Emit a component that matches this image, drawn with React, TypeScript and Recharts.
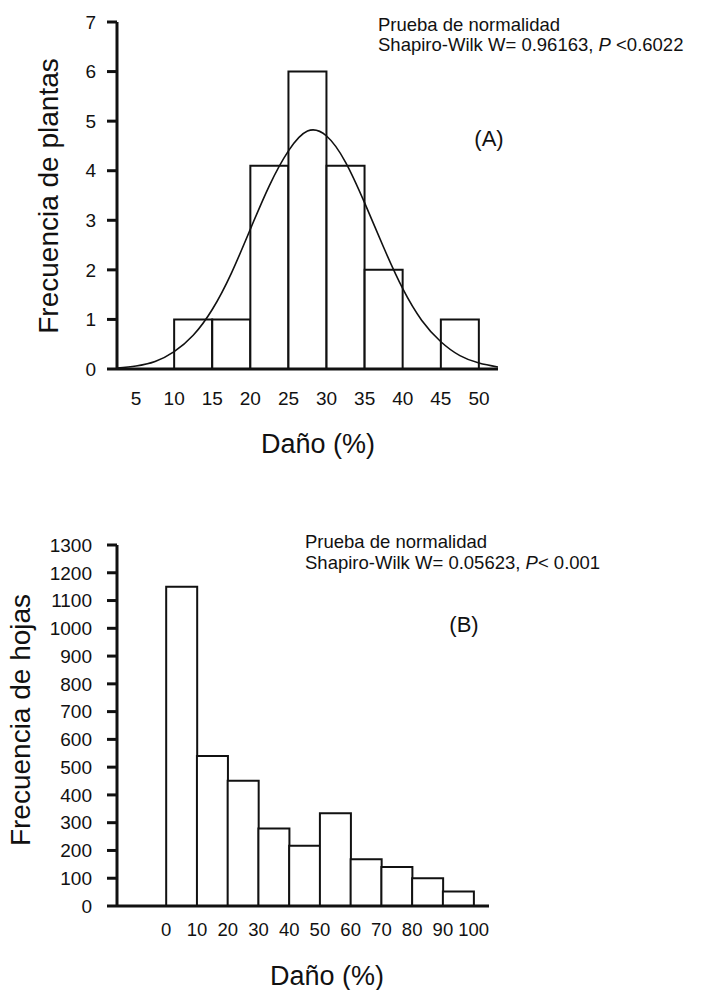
import React from 'react';
import { ComposedChart, Bar, Line, XAxis, YAxis } from 'recharts';

// ---------- Panel A: plants ----------
const plantBinMids = [12.5, 17.5, 22.5, 27.5, 32.5, 37.5, 47.5];
const plantCounts = [1, 1, 4.1, 6, 4.1, 2, 1];
const plantXTicks = [5, 10, 15, 20, 25, 30, 35, 40, 45, 50];
const plantYTicks = [0, 1, 2, 3, 4, 5, 6, 7];
const fitX = [2.5, 5, 7.5, 10, 12.5, 15, 17.5, 20, 22.5, 25, 27.5, 30, 32.5, 35, 37.5, 40, 42.5, 45, 47.5, 50, 52.5];
const fitY = [0.02, 0.06, 0.15, 0.35, 0.68, 1.2, 1.93, 2.82, 3.7, 4.4, 4.8, 4.7, 4.17, 3.35, 2.45, 1.62, 0.98, 0.55, 0.27, 0.12, 0.04];

// ---------- Panel B: leaves ----------
const leafBinMids = [5, 15, 25, 35, 45, 55, 65, 75, 85, 95];
const leafCounts = [1150, 540, 451, 279, 217, 334, 168, 140, 100, 52];
const leafXTicks = [0, 10, 20, 30, 40, 50, 60, 70, 80, 90, 100];
const leafYTicks = [0, 100, 200, 300, 400, 500, 600, 700, 800, 900, 1000, 1100, 1200, 1300];

const plantData = plantBinMids.map((x, i) => ({ x, count: plantCounts[i] }));
const fitData = fitX.map((x, i) => ({ x, y: fitY[i] }));
const leafData = leafBinMids.map((x, i) => ({ x, count: leafCounts[i] }));

const FONT = '"Liberation Sans", Arial, sans-serif';
const INK = '#111';

const axisLine = { stroke: INK, strokeWidth: 3 };
const tickLine = { stroke: INK, strokeWidth: 3 };

export default function App() {
  return (
    <div style={{ position: 'absolute', left: 0, top: 0, width: 706, height: 990, background: '#fff', fontFamily: FONT }}>
      <div style={{ position: 'absolute', left: 0, top: 0 }}>
        <ComposedChart
          width={706}
          height={470}
          data={plantData}
          margin={{ top: 22, right: 208, bottom: 0, left: 0 }}
          barCategoryGap={0}
          barGap={0}
        >
          <XAxis
            xAxisId="bins"
            dataKey="x"
            type="number"
            domain={[2.5, 52.5]}
            allowDataOverflow
            ticks={plantXTicks}
            interval={0}
            height={101}
            axisLine={axisLine}
            tickLine={false}
            tickSize={0}
            tickMargin={23}
            tick={{ fontSize: 19, fill: INK, fontFamily: FONT }}
          />
          <XAxis xAxisId="fit" dataKey="x" type="number" domain={[2.5, 52.5]} allowDataOverflow hide />
          <YAxis
            type="number"
            domain={[0, 7]}
            allowDataOverflow
            ticks={plantYTicks}
            interval={0}
            width={117}
            axisLine={axisLine}
            tickLine={tickLine}
            tickSize={10}
            tickMargin={11}
            tick={{ fontSize: 19, fill: INK, fontFamily: FONT }}
          />
          <Bar xAxisId="bins" dataKey="count" fill="#fff" stroke={INK} strokeWidth={2} isAnimationActive={false} />
          <Line
            xAxisId="fit"
            data={fitData}
            dataKey="y"
            type="natural"
            dot={false}
            activeDot={false}
            stroke={INK}
            strokeWidth={1.6}
            isAnimationActive={false}
          />
        </ComposedChart>
      </div>
      <div style={{ position: 'absolute', left: 0, top: 470 }}>
        <ComposedChart
          width={706}
          height={520}
          data={leafData}
          margin={{ top: 75, right: 217, bottom: 0, left: 0 }}
          barCategoryGap={0}
          barGap={0}
        >
          <XAxis
            dataKey="x"
            type="number"
            domain={[-16, 105]}
            allowDataOverflow
            ticks={leafXTicks}
            interval={0}
            height={84}
            axisLine={axisLine}
            tickLine={false}
            tickSize={0}
            tickMargin={17}
            tick={{ fontSize: 18.5, fill: INK, fontFamily: FONT }}
          />
          <YAxis
            type="number"
            domain={[0, 1300]}
            allowDataOverflow
            ticks={leafYTicks}
            interval={0}
            width={117}
            axisLine={axisLine}
            tickLine={tickLine}
            tickSize={10}
            tickMargin={15}
            tick={{ fontSize: 19, fill: INK, fontFamily: FONT }}
          />
          <Bar dataKey="count" fill="#fff" stroke={INK} strokeWidth={2} isAnimationActive={false} />
        </ComposedChart>
      </div>
      <svg width={706} height={990} style={{ position: 'absolute', left: 0, top: 0, pointerEvents: 'none' }} fontFamily={FONT} fill={INK}>
        <text transform="translate(58,196) rotate(-90)" textAnchor="middle" fontSize={28}>Frecuencia de plantas</text>
        <text x={318} y={453} textAnchor="middle" fontSize={27}>Daño (%)</text>
        <text x={378} y={31} fontSize={18.5}>Prueba de normalidad</text>
        <text x={378} y={51} fontSize={18.5}>
          Shapiro-Wilk W= 0.96163, <tspan fontStyle="italic">P</tspan> &lt;0.6022
        </text>
        <text x={489} y={146} textAnchor="middle" fontSize={22}>(A)</text>

        <text transform="translate(30,720) rotate(-90)" textAnchor="middle" fontSize={28}>Frecuencia de hojas</text>
        <text x={327} y={985} textAnchor="middle" fontSize={27}>Daño (%)</text>
        <text x={305} y={548} fontSize={18.5}>Prueba de normalidad</text>
        <text x={305} y={569} fontSize={18.5}>
          Shapiro-Wilk W= 0.05623, <tspan fontStyle="italic">P</tspan>&lt; 0.001
        </text>
        <text x={464} y={632} textAnchor="middle" fontSize={22}>(B)</text>
      </svg>
    </div>
  );
}
